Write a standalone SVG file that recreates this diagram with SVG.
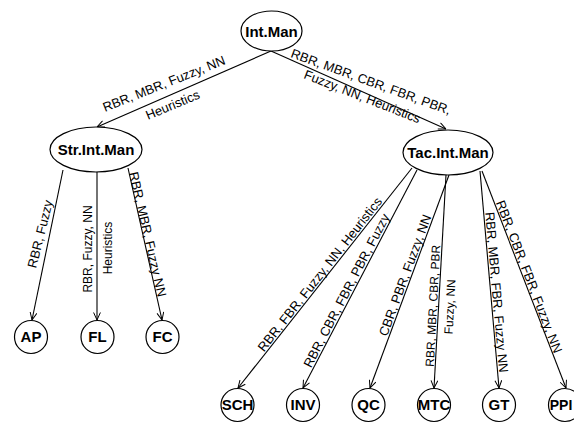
<svg xmlns="http://www.w3.org/2000/svg" width="574" height="425" viewBox="0 0 574 425">
<defs>
<style>
.n{fill:#fff;stroke:#000;stroke-width:1.2}
.nt{font-family:"Liberation Sans",Arial,sans-serif;font-weight:bold;font-size:15px;text-anchor:middle;fill:#000}
.c{stroke:#000;stroke-width:1.1;fill:none;marker-end:url(#arr)}
.l{font-family:"Liberation Sans",Arial,sans-serif;font-size:13px;fill:#000}
.s{font-size:12px}
.m{text-anchor:middle}
</style>
<marker id="arr" viewBox="0 0 8 8" refX="8" refY="4" markerWidth="8" markerHeight="8" orient="auto" markerUnits="userSpaceOnUse">
<path d="M0.5,0.6 L8,4 L0.5,7.4" fill="none" stroke="#000" stroke-width="1"/>
</marker>
</defs>
<rect width="574" height="425" fill="#fff"/>
<g id="connectors">
<line class="c" x1="271" y1="51" x2="97" y2="127"/>
<line class="c" x1="271" y1="51" x2="446" y2="129"/>
<line class="c" x1="63" y1="170" x2="32" y2="320"/>
<line class="c" x1="97" y1="172" x2="97" y2="320"/>
<line class="c" x1="128" y1="168" x2="162" y2="320"/>
<line class="c" x1="412" y1="168" x2="238" y2="388"/>
<line class="c" x1="417" y1="170" x2="303" y2="388"/>
<line class="c" x1="449" y1="175" x2="370" y2="388"/>
<line class="c" x1="446" y1="175" x2="434" y2="388"/>
<line class="c" x1="480" y1="171" x2="499" y2="388"/>
<line class="c" x1="482" y1="171" x2="566" y2="388"/>
<text class="l" transform="translate(105,112) rotate(-21.7)">RBR, MBR, Fuzzy, NN</text>
<text class="l" transform="translate(148,120) rotate(-22.7)">Heuristics</text>
<text class="l" transform="translate(290,57) rotate(20)">RBR, MBR, CBR, FBR, PBR,</text>
<text class="l" transform="translate(303,78) rotate(21.5)">Fuzzy, NN, Heuristics</text>
<text class="l m" transform="translate(44.5,235) rotate(-76)">RBR, Fuzzy</text>
<text class="l s m" transform="translate(92,249) rotate(-90)">RBR, Fuzzy, NN</text>
<text class="l s m" transform="translate(111.5,248) rotate(-90)">Heuristics</text>
<text class="l" transform="translate(129,173) rotate(77)">RBR, MBR, Fuzzy NN</text>
<text class="l" transform="translate(264,352.5) rotate(-51.8)">RBR, FBR, Fuzzy, NN, Heuristics</text>
<text class="l" transform="translate(311,368.5) rotate(-62.5)">RBR, CBR, FBR, PBR, Fuzzy</text>
<text class="l" transform="translate(387,337) rotate(-69.7)">CBR, PBR, Fuzzy, NN</text>
<text class="l s m" transform="translate(437,306) rotate(-87)">RBR, MBR, CBR, PBR</text>
<text class="l s m" transform="translate(454,307) rotate(-87)">Fuzzy, NN</text>
<text class="l" transform="translate(485.2,212.5) rotate(85)">RBR, MBR, FBR, Fuzzy NN</text>
<text class="l" transform="translate(495.7,202.5) rotate(68.9)">RBR, CBR, FBR, Fuzzy, NN</text>
</g>
<g id="IntMan"><ellipse class="n" cx="271.5" cy="31" rx="30.5" ry="20"/><text class="nt" x="271.5" y="36.5">Int.Man</text></g>
<g id="StrIntMan"><ellipse class="n" cx="96" cy="149.5" rx="46" ry="22.5"/><text class="nt" x="96" y="155">Str.Int.Man</text></g>
<g id="TacIntMan"><ellipse class="n" cx="448" cy="152.5" rx="45" ry="22.5"/><text class="nt" x="448" y="158">Tac.Int.Man</text></g>
<g id="AP"><circle class="n" cx="31" cy="337" r="16.5"/><text class="nt" x="31" y="342.4">AP</text></g>
<g id="FL"><circle class="n" cx="97.5" cy="337" r="16.5"/><text class="nt" x="97.5" y="342.4">FL</text></g>
<g id="FC"><circle class="n" cx="162.5" cy="337" r="16.5"/><text class="nt" x="162.5" y="342.4">FC</text></g>
<g id="SCH"><circle class="n" cx="237.5" cy="405" r="16.5"/><text class="nt" x="237.5" y="410.4">SCH</text></g>
<g id="INV"><circle class="n" cx="303" cy="405" r="16.5"/><text class="nt" x="303" y="410.4">INV</text></g>
<g id="QC"><circle class="n" cx="368.5" cy="405" r="16.5"/><text class="nt" x="368.5" y="410.4">QC</text></g>
<g id="MTC"><circle class="n" cx="434" cy="405" r="16.5"/><text class="nt" x="434" y="410.4">MTC</text></g>
<g id="GT"><circle class="n" cx="499" cy="405" r="16.5"/><text class="nt" x="499" y="410.4">GT</text></g>
<g id="PPI"><circle class="n" cx="565" cy="405" r="16.5"/><text class="nt" x="561" y="410.4" style="font-size:14px">PPI</text></g>
</svg>
